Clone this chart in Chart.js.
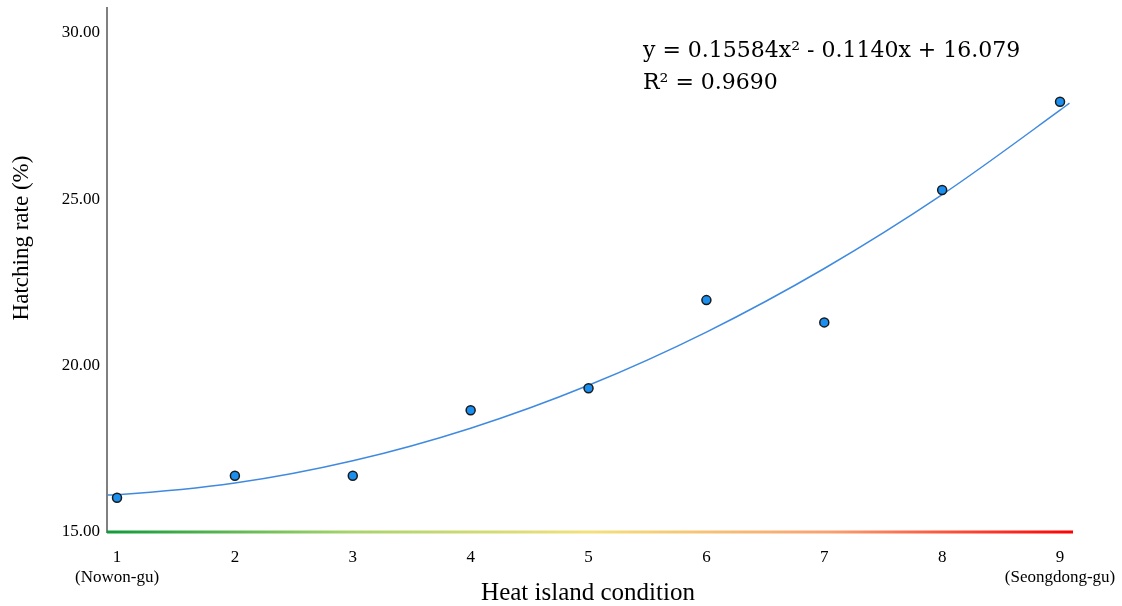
<!DOCTYPE html>
<html>
<head>
    <title>Hatching rate vs heat island condition</title>
    <script src="https://cdn.jsdelivr.net/npm/chart.js@4/dist/chart.umd.min.js"></script>
    <style>
        html, body { margin: 0; padding: 0; background: #fff; }
        #wrap { width: 1122px; height: 606px; position: relative; }
    </style>
</head>
<body>
    <div id="wrap"><canvas id="hatchChart"></canvas></div>

    <script>
        // observed points (x = heat island condition, y = hatching rate %)
        const conditions = [1, 2, 3, 4, 5, 6, 7, 8, 9];
        const hatchRates = [16.03, 16.69, 16.69, 18.66, 19.32, 21.97, 21.30, 25.28, 27.93];

        // fitted quadratic curve
        const fitX = [0.92, 1, 2, 3, 4, 5, 6, 7, 8, 9, 9.08];
        const fitY = [16.11, 16.12, 16.47, 17.14, 18.12, 19.41, 21.01, 22.92, 25.14, 27.68, 27.89];

        const yTicks = [15, 20, 25, 30];
        const xTickLabels = {
            1: ['1', '(Nowon-gu)'],
            2: '2', 3: '3', 4: '4', 5: '5', 6: '6', 7: '7', 8: '8',
            9: ['9', '(Seongdong-gu)']
        };
        const equationText = 'y = 0.15584x\u00b2 - 0.1140x + 16.079';
        const r2Text = 'R\u00b2 = 0.9690';

        const serif = '"Liberation Serif", "Times New Roman", serif';

        // gradient baseline, axis titles and the equation
        const decor = {
            id: 'decor',
            afterDraw(chart) {
                const ctx = chart.ctx;
                const a = chart.chartArea;
                ctx.save();
                const g = ctx.createLinearGradient(a.left, 0, a.right, 0);
                g.addColorStop(0, '#119a3a');
                g.addColorStop(0.25, '#a6d36a');
                g.addColorStop(0.5, '#f4e07a');
                g.addColorStop(0.75, '#f9a070');
                g.addColorStop(1, '#ff0000');
                ctx.strokeStyle = g;
                ctx.lineWidth = 3;
                ctx.beginPath();
                ctx.moveTo(a.left, a.bottom);
                ctx.lineTo(a.right, a.bottom);
                ctx.stroke();

                ctx.fillStyle = '#000';
                ctx.textAlign = 'center';
                ctx.textBaseline = 'middle';
                ctx.font = '25px ' + serif;
                ctx.fillText('Heat island condition', 588, 593);

                ctx.font = '23px ' + serif;
                ctx.translate(22, 238);
                ctx.rotate(-Math.PI / 2);
                ctx.fillText('Hatching rate (%)', 0, 0);
                ctx.restore();

                ctx.save();
                ctx.fillStyle = '#000';
                ctx.font = '22px "DejaVu Serif", ' + serif;
                ctx.textAlign = 'left';
                ctx.textBaseline = 'alphabetic';
                ctx.fillText(equationText, 643, 57);
                ctx.fillText(r2Text, 643, 89);
                ctx.restore();
            }
        };

        const ctx = document.getElementById('hatchChart').getContext('2d');
        new Chart(ctx, {
            type: 'scatter',
            data: {
                datasets: [
                    {
                        label: 'Fit',
                        type: 'line',
                        data: fitX.map((x, i) => ({ x: x, y: fitY[i] })),
                        borderColor: '#3f8ae0',
                        borderWidth: 1.5,
                        pointRadius: 0,
                        cubicInterpolationMode: 'monotone',
                        fill: false,
                        order: 2
                    },
                    {
                        label: 'Observed',
                        data: conditions.map((x, i) => ({ x: x, y: hatchRates[i] })),
                        backgroundColor: '#1a8ff0',
                        borderColor: '#1a1a1a',
                        borderWidth: 1.5,
                        pointRadius: 4.5,
                        order: 1
                    }
                ]
            },
            options: {
                responsive: true,
                maintainAspectRatio: false,
                animation: false,
                layout: { padding: { top: 8, right: 49, left: 0, bottom: 0 } },
                plugins: {
                    legend: { display: false },
                    tooltip: { enabled: false }
                },
                scales: {
                    x: {
                        type: 'linear',
                        min: 0.915,
                        max: 9.11,
                        grid: { display: false, drawTicks: false },
                        border: { display: false },
                        afterBuildTicks: s => { s.ticks = conditions.map(v => ({ value: v })); },
                        afterFit: s => {
                            s.height = 74;
                            s.paddingLeft = 0;
                            s.paddingRight = 0;
                        },
                        ticks: {
                            padding: 15,
                            maxRotation: 0,
                            autoSkip: false,
                            color: '#000',
                            font: { family: serif, size: 17, lineHeight: 1.2 },
                            callback: v => xTickLabels[v]
                        }
                    },
                    y: {
                        min: 15,
                        max: 30.75,
                        grid: { display: false, drawTicks: false },
                        border: { display: true, color: '#808080', width: 2 },
                        afterBuildTicks: s => { s.ticks = yTicks.map(v => ({ value: v })); },
                        afterFit: s => {
                            s.width = 107;
                            s.paddingTop = 0;
                            s.paddingBottom = 0;
                        },
                        ticks: {
                            padding: 7,
                            color: '#000',
                            font: { family: serif, size: 17 },
                            callback: v => Number(v).toFixed(2)
                        }
                    }
                }
            },
            plugins: [decor]
        });
    </script>
</body>
</html>
